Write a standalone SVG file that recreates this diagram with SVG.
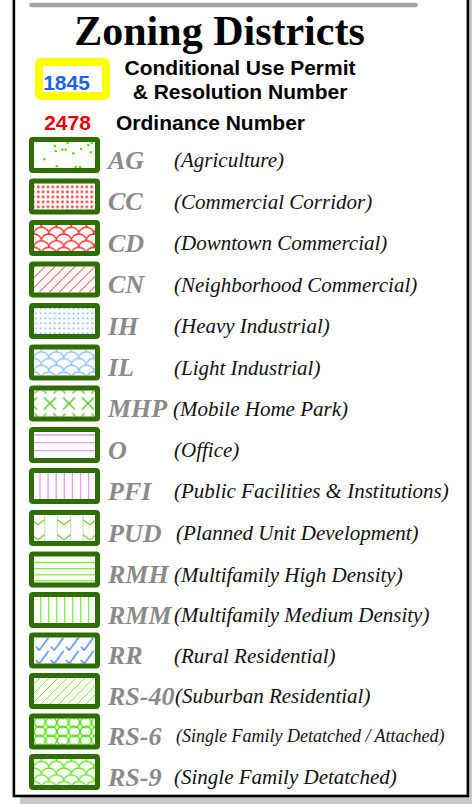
<svg xmlns="http://www.w3.org/2000/svg" width="472" height="804" viewBox="0 0 472 804">
<style>
.sw{fill:none;stroke:#2e6e00;stroke-width:5}
.code{font-family:"Liberation Serif",serif;font-weight:bold;font-style:italic;font-size:26px;fill:#8a8a8a}
.desc{font-family:"Liberation Serif",serif;font-style:italic;font-size:21px;fill:#111}
.hdr{font-family:"Liberation Sans",Arial,sans-serif;font-weight:bold;font-size:21px;fill:#000}
.ln{fill:none;stroke-width:1.3}
</style>
<defs>
<pattern id="p-cc" patternUnits="userSpaceOnUse" x="35.9" y="5.9" width="4.85" height="5"><circle cx="2.4" cy="2.5" r="1.25" fill="#ff1a1a"/></pattern>
<pattern id="p-ih" patternUnits="userSpaceOnUse" x="33.6" y="2.8" width="4.7" height="5"><circle cx="2.35" cy="2.5" r="1.05" fill="#7fb2ff"/></pattern>
<pattern id="p-cd" patternUnits="userSpaceOnUse" x="33.8" y="7.3" width="15" height="13.4"><path d="M0,6.7 A7.5,6.7 0 0 1 15,6.7 M0,20.1 A7.5,6.7 0 0 1 15,20.1 M-7.5,13.4 A7.5,6.7 0 0 1 7.5,13.4 M7.5,13.4 A7.5,6.7 0 0 1 22.5,13.4" fill="none" stroke="#ff2020" stroke-width="1.3"/></pattern>
<pattern id="p-il" patternUnits="userSpaceOnUse" x="33.8" y="7.3" width="15" height="13.4"><path d="M0,6.7 A7.5,6.7 0 0 1 15,6.7 M0,20.1 A7.5,6.7 0 0 1 15,20.1 M-7.5,13.4 A7.5,6.7 0 0 1 7.5,13.4 M7.5,13.4 A7.5,6.7 0 0 1 22.5,13.4" fill="none" stroke="#8bbcff" stroke-width="1.3"/></pattern>
<pattern id="p-rs9" patternUnits="userSpaceOnUse" x="33.8" y="7.3" width="15" height="13.4"><path d="M0,6.7 A7.5,6.7 0 0 1 15,6.7 M0,20.1 A7.5,6.7 0 0 1 15,20.1 M-7.5,13.4 A7.5,6.7 0 0 1 7.5,13.4 M7.5,13.4 A7.5,6.7 0 0 1 22.5,13.4" fill="none" stroke="#62e41c" stroke-width="1.3"/></pattern>
<pattern id="p-cn" patternUnits="userSpaceOnUse" width="10" height="10"><path d="M-1,11 L11,-1 M-6,6 L6,-6 M4,16 L16,4" stroke="#ff2020" stroke-width="1"/></pattern>
<pattern id="p-rs40" patternUnits="userSpaceOnUse" width="9" height="9"><path d="M-1,10 L10,-1 M-5,5 L5,-5 M4,14 L14,4" stroke="#80ee40" stroke-width="1"/></pattern>
<pattern id="p-mhp" patternUnits="userSpaceOnUse" x="40.5" y="2" width="19" height="32"><path d="M3.5,10 L15.5,22 M15.5,10 L3.5,22 M-6,-6 L6,6 M6,-6 L-6,6 M13,-6 L25,6 M25,-6 L13,6 M-6,26 L6,38 M6,26 L-6,38 M13,26 L25,38 M25,26 L13,38" stroke="#44bb11" stroke-width="1.2" fill="none"/></pattern>
<pattern id="p-rr" patternUnits="userSpaceOnUse" x="35.4" y="4.5" width="15" height="13.5"><path d="M0.5,9.5 L3.8,13.3 L13.3,0.3" fill="none" stroke="#2277ee" stroke-width="1.3"/></pattern>
<pattern id="p-rs6" patternUnits="userSpaceOnUse" x="34" y="4.5" width="11.5" height="9"><g fill="none" stroke="#55e011" stroke-width="1.2"><circle cx="5.75" cy="4.5" r="5.3"/><circle cx="5.75" cy="-4.5" r="5.3"/><circle cx="5.75" cy="13.5" r="5.3"/></g></pattern>
</defs>

<g id="frame">
<rect x="20" y="0" width="456" height="808" fill="#c8c8c8"/>
<rect x="13.9" y="-10" width="454" height="806" fill="#fff" stroke="#000" stroke-width="2.6"/>
<line x1="31.5" y1="5" x2="415.5" y2="5" stroke="#a5a5a5" stroke-width="4.6" stroke-linecap="round"/>
</g>

<g id="title">
<text x="219.5" y="45" text-anchor="middle" font-family="Liberation Serif,serif" font-weight="bold" font-size="42">Zoning Districts</text>
</g>

<g id="legend-header">
<rect x="39" y="62" width="67" height="34" rx="2" fill="#fff" stroke="#ffff00" stroke-width="8"/>
<text x="66.5" y="90" text-anchor="middle" class="hdr" fill="#1a63e6" style="fill:#1a63e6">1845</text>
<text x="240" y="75" text-anchor="middle" class="hdr">Conditional Use Permit</text>
<text x="240" y="99" text-anchor="middle" class="hdr">&amp; Resolution Number</text>
<text x="67.5" y="130" text-anchor="middle" class="hdr" style="fill:#e60000">2478</text>
<text x="116" y="130" class="hdr">Ordinance Number</text>
</g>

<g id="node-ag" transform="translate(0,137)">
<rect x="34" y="5" width="64" height="26" fill="#fff"/>
<g fill="#55dd11">
<circle cx="55" cy="9" r="1.3"/><circle cx="67.7" cy="5.8" r="1.3"/><circle cx="91.7" cy="5.8" r="1.3"/><circle cx="88.3" cy="8" r="1.3"/>
<circle cx="55.7" cy="14" r="1.3"/><circle cx="62.3" cy="12.7" r="1.3"/><circle cx="65.7" cy="12.7" r="1.3"/><circle cx="73.3" cy="16.3" r="1.3"/>
<circle cx="81" cy="12" r="1.3"/><circle cx="91" cy="15.3" r="1.3"/><circle cx="44.3" cy="22.3" r="1.3"/><circle cx="56.7" cy="29.3" r="1.3"/>
<circle cx="75.7" cy="30" r="1.3"/><circle cx="80" cy="30" r="1.3"/>
</g>
<rect class="sw" x="31.5" y="2.5" width="66" height="31" rx="1.5"/>
<text class="code" x="108" y="31.5">AG</text>
<text class="desc" x="174" y="30">(Agriculture)</text>
</g>

<g id="node-cc" transform="translate(0,178.5)">
<rect x="34" y="5" width="64" height="26" fill="url(#p-cc)"/>
<rect class="sw" x="31.5" y="2.5" width="66" height="31" rx="1.5"/>
<text class="code" x="108" y="31.5">CC</text>
<text class="desc" x="174" y="30">(Commercial Corridor)</text>
</g>

<g id="node-cd" transform="translate(0,220)">
<rect x="34" y="5" width="64" height="26" fill="url(#p-cd)"/>
<rect class="sw" x="31.5" y="2.5" width="66" height="31" rx="1.5"/>
<text class="code" x="108" y="31.5">CD</text>
<text class="desc" x="174" y="30">(Downtown Commercial)</text>
</g>

<g id="node-cn" transform="translate(0,261.5)">
<rect x="34" y="5" width="64" height="26" fill="url(#p-cn)"/>
<rect class="sw" x="31.5" y="2.5" width="66" height="31" rx="1.5"/>
<text class="code" x="108" y="31.5">CN</text>
<text class="desc" x="174" y="30">(Neighborhood Commercial)</text>
</g>

<g id="node-ih" transform="translate(0,303)">
<rect x="34" y="5" width="64" height="26" fill="url(#p-ih)"/>
<rect class="sw" x="31.5" y="2.5" width="66" height="31" rx="1.5"/>
<text class="code" x="108" y="31.5">IH</text>
<text class="desc" x="174" y="30">(Heavy Industrial)</text>
</g>

<g id="node-il" transform="translate(0,344.5)">
<rect x="34" y="5" width="64" height="26" fill="url(#p-il)"/>
<rect class="sw" x="31.5" y="2.5" width="66" height="31" rx="1.5"/>
<text class="code" x="108" y="31.5">IL</text>
<text class="desc" x="174" y="30">(Light Industrial)</text>
</g>

<g id="node-mhp" transform="translate(0,385.5)">
<rect x="34" y="5" width="64" height="26" fill="url(#p-mhp)"/>
<rect class="sw" x="31.5" y="2.5" width="66" height="31" rx="1.5"/>
<text class="code" x="108" y="31.5">MHP</text>
<text class="desc" x="173" y="30">(Mobile Home Park)</text>
</g>

<g id="node-o" transform="translate(0,427)">
<rect x="34" y="5" width="64" height="26" fill="#fff"/>
<path class="ln" stroke="#ee99ff" d="M34,8 H98 M34,15.7 H98 M34,23.7 H98"/>
<rect class="sw" x="31.5" y="2.5" width="66" height="31" rx="1.5"/>
<text class="code" x="108" y="31.5">O</text>
<text class="desc" x="174" y="30">(Office)</text>
</g>

<g id="node-pfi" transform="translate(0,468)">
<rect x="34" y="5" width="64" height="26" fill="#fff"/>
<path class="ln" stroke="#ee99ff" d="M40,5 V31 M48.1,5 V31 M56.2,5 V31 M64.3,5 V31 M72.4,5 V31 M80.5,5 V31 M88.6,5 V31"/>
<rect class="sw" x="31.5" y="2.5" width="66" height="31" rx="1.5"/>
<text class="code" x="108" y="31.5">PFI</text>
<text class="desc" x="174" y="30">(Public Facilities &amp; Institutions)</text>
</g>

<g id="node-pud" transform="translate(0,510)">
<rect x="34" y="5" width="64" height="26" fill="#fff"/>
<path class="ln" stroke="#cde6bb" stroke-width="1.2" d="M44.7,5 V31 M57.3,5 V31 M70.7,5 V31 M83,5 V31"/>
<path class="ln" stroke="#7acb4a" stroke-width="1.1" d="M31.3,9.7 L38,14.7 L44.7,9.7 M57.3,9.7 L64,14.7 L70.7,9.7 M83,9.7 L89.7,14.7 L96.3,9.7 M31.3,24.7 L38,29.7 L44.7,24.7 M57.3,24.7 L64,29.7 L70.7,24.7 M83,24.7 L89.7,29.7 L96.3,24.7"/>
<rect class="sw" x="31.5" y="2.5" width="66" height="31" rx="1.5"/>
<text class="code" x="108" y="31.5">PUD</text>
<text class="desc" x="176" y="30">(Planned Unit Development)</text>
</g>

<g id="node-rmh" transform="translate(0,551.5)">
<rect x="34" y="5" width="64" height="26" fill="#fff"/>
<path class="ln" stroke="#80ee40" d="M34,11 H98 M34,17.2 H98 M34,23.3 H98 M34,29.3 H98"/>
<rect class="sw" x="31.5" y="2.5" width="66" height="31" rx="1.5"/>
<text class="code" x="108" y="31.5">RMH</text>
<text class="desc" x="174" y="30">(Multifamily High Density)</text>
</g>

<g id="node-rmm" transform="translate(0,592)">
<rect x="34" y="5" width="64" height="26" fill="#fff"/>
<path class="ln" stroke="#80ee40" d="M40.7,5 V31 M48.7,5 V31 M56.7,5 V31 M64.7,5 V31 M72.7,5 V31 M80.7,5 V31 M88.7,5 V31"/>
<rect class="sw" x="31.5" y="2.5" width="66" height="31" rx="1.5"/>
<text class="code" x="108" y="31.5">RMM</text>
<text class="desc" x="174" y="30">(Multifamily Medium Density)</text>
</g>

<g id="node-rr" transform="translate(0,632.5)">
<rect x="34" y="5" width="64" height="26" fill="url(#p-rr)"/>
<rect class="sw" x="31.5" y="2.5" width="66" height="31" rx="1.5"/>
<text class="code" x="108" y="31.5">RR</text>
<text class="desc" x="174" y="30">(Rural Residential)</text>
</g>

<g id="node-rs40" transform="translate(0,673)">
<rect x="34" y="5" width="64" height="26" fill="url(#p-rs40)"/>
<rect class="sw" x="31.5" y="2.5" width="66" height="31" rx="1.5"/>
<text class="code" x="108" y="31.5">RS-40</text>
<text class="desc" x="175" y="30">(Suburban Residential)</text>
</g>

<g id="node-rs6" transform="translate(0,713.5)">
<rect x="34" y="5" width="64" height="26" fill="url(#p-rs6)"/>
<rect class="sw" x="31.5" y="2.5" width="66" height="31" rx="1.5"/>
<text class="code" x="108" y="31.5">RS-6</text>
<text class="desc" x="176" y="28.5" style="font-size:18px">(Single Family Detatched / Attached)</text>
</g>

<g id="node-rs9" transform="translate(0,754)">
<rect x="34" y="5" width="64" height="26" fill="url(#p-rs9)"/>
<rect class="sw" x="31.5" y="2.5" width="66" height="31" rx="1.5"/>
<text class="code" x="108" y="31.5">RS-9</text>
<text class="desc" x="174" y="30">(Single Family Detatched)</text>
</g>
</svg>
